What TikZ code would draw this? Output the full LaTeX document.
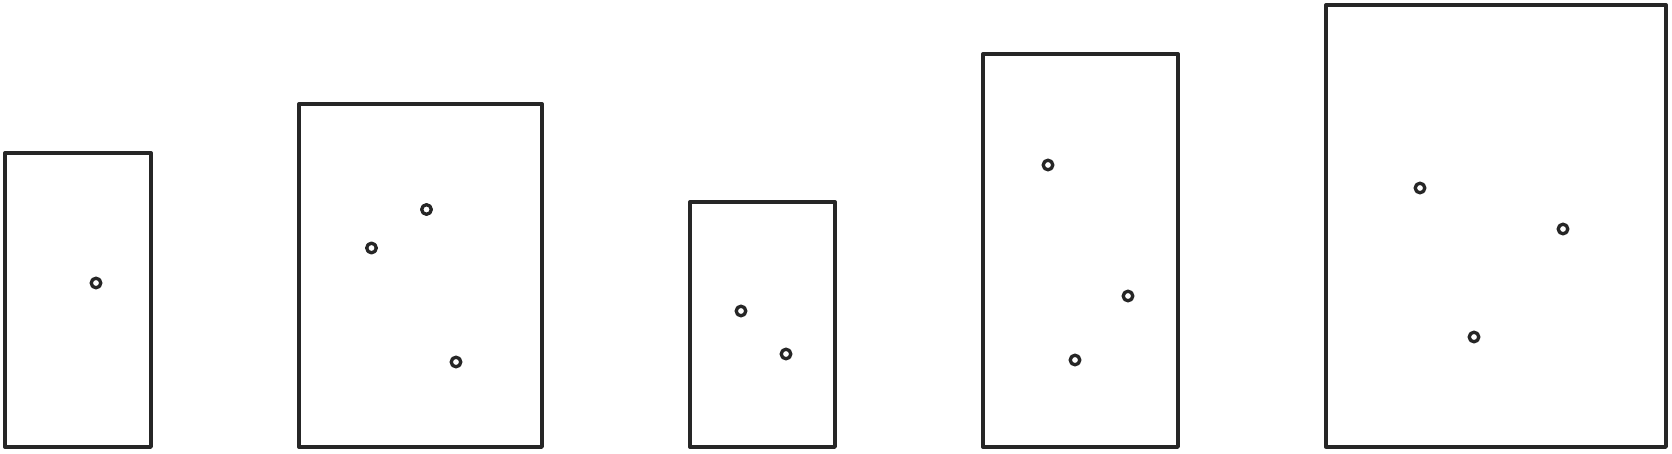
\documentclass[tikz,border=0pt]{standalone}
\usepackage{tikz}
\usetikzlibrary{positioning}

\begin{document}
\begin{tikzpicture}[x=0.02cm,y=-0.02cm,line width=1.9pt,line join=round,color={black!85}]
		\useasboundingbox (0,0) rectangle (1672,453);
		% boxes
		\draw (5,153) rectangle (151,447);
		\draw (299,104) rectangle (542,447);
		\draw (690,202) rectangle (835,447);
		\draw (983,54) rectangle (1178,447);
		\draw (1326,5) rectangle (1666,447);
		% points
		\foreach \x/\y in {96/283, 426.5/209.5, 371.5/248, 456/362, 741/311, 786/354, 1048/165, 1128/296, 1075/360, 1420/188, 1563/229, 1474/337}
			\draw (\x,\y) circle (4.8);
\end{tikzpicture}
\end{document}
